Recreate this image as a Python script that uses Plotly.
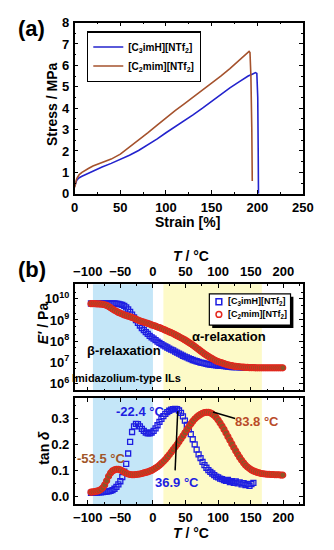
import plotly.graph_objects as go

# ---------------- data ----------------
# (a) stress-strain
strain_c3 = [0, 1, 2, 3, 5, 8, 10, 15, 20, 25, 30, 40, 50, 60, 70, 80, 90, 100, 110, 120,
             130, 140, 150, 160, 170, 180, 185, 190, 195, 198, 199.5, 200.5, 201, 201.3]
stress_c3 = [0.35, 0.5, 0.6, 0.67, 0.75, 0.82, 0.86, 0.97, 1.07, 1.15, 1.25, 1.42, 1.6, 1.8,
             2.02, 2.27, 2.55, 2.85, 3.12, 3.4, 3.7, 4.0, 4.32, 4.65, 4.95, 5.23, 5.37, 5.5,
             5.6, 5.66, 5.62, 4.5, 2.0, 0.0]
strain_c2 = [0, 1, 2, 3, 5, 8, 10, 15, 20, 25, 30, 40, 50, 60, 70, 80, 90, 100, 110, 120,
             130, 140, 150, 160, 170, 180, 185, 188, 190, 191, 192, 193, 194, 194.5]
stress_c2 = [0.3, 0.55, 0.68, 0.76, 0.9, 1.0, 1.06, 1.18, 1.3, 1.38, 1.45, 1.62, 1.85, 2.17,
             2.5, 2.85, 3.2, 3.55, 3.88, 4.2, 4.52, 4.84, 5.16, 5.5, 5.85, 6.22, 6.42, 6.55,
             6.62, 6.65, 6.6, 5.5, 3.0, 0.6]

# (b) DMA
T_c3 = [-95, -92, -89, -86, -83, -80, -77, -74, -71, -68, -65, -62, -59, -56, -53, -50, -47,
        -44, -41, -38, -35, -32, -29, -26, -23, -20, -17, -14, -11, -8, -5, -2, 1, 4, 7, 10,
        13, 16, 19, 22, 25, 28, 31, 34, 37, 40, 43, 46, 49, 52, 55, 58, 61, 64, 67, 70, 73,
        76, 79, 82, 85, 88, 91, 94, 97, 100, 103, 106, 109, 112, 115, 118, 121, 124, 127,
        130, 133, 136, 139, 142, 145, 148, 151, 154]
logE_c3 = [9.78, 9.78, 9.78, 9.78, 9.78, 9.78, 9.78, 9.78, 9.78, 9.78, 9.78, 9.78, 9.78, 9.77,
           9.76, 9.74, 9.71, 9.67, 9.6, 9.5, 9.38, 9.25, 9.12, 8.99, 8.86, 8.74, 8.62, 8.52,
           8.43, 8.34, 8.25, 8.18, 8.12, 8.05, 7.98, 7.92, 7.86, 7.8, 7.75, 7.7, 7.65, 7.6,
           7.56, 7.51, 7.46, 7.41, 7.36, 7.31, 7.27, 7.23, 7.19, 7.15, 7.11, 7.08, 7.05, 7.02,
           6.99, 6.97, 6.95, 6.93, 6.91, 6.89, 6.88, 6.87, 6.86, 6.85, 6.84, 6.83, 6.82, 6.81,
           6.8, 6.79, 6.78, 6.78, 6.77, 6.77, 6.76, 6.76, 6.76, 6.75, 6.75, 6.75, 6.75, 6.75]
tand_c3 = [0.013, 0.013, 0.014, 0.014, 0.015, 0.015, 0.016, 0.017, 0.018, 0.019, 0.021, 0.024,
           0.029, 0.036, 0.046, 0.058, 0.074, 0.095, 0.125, 0.165, 0.21, 0.248, 0.27, 0.279,
           0.278, 0.27, 0.26, 0.252, 0.246, 0.243, 0.243, 0.246, 0.252, 0.262, 0.274, 0.287,
           0.299, 0.309, 0.318, 0.325, 0.33, 0.334, 0.336, 0.337, 0.336, 0.331, 0.322, 0.308,
           0.292, 0.275, 0.258, 0.24, 0.22, 0.2, 0.18, 0.162, 0.147, 0.133, 0.12, 0.11, 0.101,
           0.094, 0.088, 0.082, 0.076, 0.073, 0.068, 0.066, 0.062, 0.06, 0.063, 0.055, 0.058,
           0.052, 0.057, 0.05, 0.054, 0.046, 0.051, 0.043, 0.048, 0.04, 0.047, 0.052]

T_c2 = [-95, -92, -89, -86, -83, -80, -77, -74, -71, -68, -65, -62, -59, -56, -53, -50, -47,
        -44, -41, -38, -35, -32, -29, -26, -23, -20, -17, -14, -11, -8, -5, -2, 1, 4, 7, 10,
        13, 16, 19, 22, 25, 28, 31, 34, 37, 40, 43, 46, 49, 52, 55, 58, 61, 64, 67, 70, 73,
        76, 79, 82, 85, 88, 91, 94, 97, 100, 103, 106, 109, 112, 115, 118, 121, 124, 127,
        130, 133, 136, 139, 142, 145, 148, 151, 154, 157, 160, 163, 166, 169, 172, 175, 178,
        181, 184, 187, 190, 193, 196, 199]
logE_c2 = [9.77, 9.77, 9.77, 9.76, 9.76, 9.75, 9.74, 9.72, 9.69, 9.64, 9.58, 9.52, 9.46, 9.41,
           9.36, 9.32, 9.28, 9.24, 9.21, 9.18, 9.15, 9.12, 9.08, 9.04, 9.0, 8.96, 8.93, 8.9,
           8.87, 8.84, 8.81, 8.77, 8.74, 8.71, 8.67, 8.64, 8.6, 8.56, 8.52, 8.48, 8.44, 8.4,
           8.36, 8.31, 8.26, 8.21, 8.16, 8.11, 8.06, 8.0, 7.94, 7.88, 7.82, 7.75, 7.68, 7.61,
           7.54, 7.47, 7.4, 7.34, 7.28, 7.22, 7.17, 7.12, 7.07, 7.03, 7.0, 6.97, 6.94, 6.91,
           6.88, 6.86, 6.84, 6.82, 6.81, 6.8, 6.79, 6.78, 6.77, 6.76, 6.76, 6.75, 6.75, 6.75,
           6.74, 6.74, 6.74, 6.74, 6.74, 6.74, 6.74, 6.74, 6.74, 6.74, 6.74, 6.74, 6.74, 6.74,
           6.74]
tand_c2 = [0.016, 0.017, 0.018, 0.02, 0.022, 0.026, 0.033, 0.044, 0.06, 0.077, 0.09, 0.098,
           0.102, 0.104, 0.104, 0.102, 0.098, 0.093, 0.089, 0.086, 0.084, 0.083, 0.083, 0.084,
           0.085, 0.086, 0.088, 0.09, 0.092, 0.094, 0.097, 0.1, 0.104, 0.109, 0.114, 0.12,
           0.127, 0.134, 0.142, 0.151, 0.16, 0.17, 0.18, 0.19, 0.2, 0.211, 0.222, 0.233, 0.245,
           0.257, 0.268, 0.279, 0.289, 0.298, 0.305, 0.311, 0.316, 0.32, 0.323, 0.324, 0.324,
           0.322, 0.318, 0.312, 0.304, 0.294, 0.283, 0.271, 0.258, 0.244, 0.23, 0.216, 0.202,
           0.188, 0.175, 0.162, 0.15, 0.139, 0.129, 0.12, 0.113, 0.107, 0.102, 0.098, 0.095,
           0.092, 0.09, 0.088, 0.087, 0.086, 0.085, 0.085, 0.084, 0.084, 0.083, 0.083, 0.083,
           0.082, 0.082]

E_c3 = [10 ** v for v in logE_c3]
E_c2 = [10 ** v for v in logE_c2]

name_c3 = "[C<sub>3</sub>imH][NTf<sub>2</sub>]"
name_c2 = "[C<sub>2</sub>mim][NTf<sub>2</sub>]"

# ---------------- styles ----------------
FONT = "Arial, Liberation Sans, sans-serif"
BLUE_LINE = "rgb(35,35,205)"
BROWN_LINE = "rgb(165,82,45)"
BLUE_MK = "rgb(30,30,225)"
RED_MK = "rgb(228,40,30)"
RED_FILL = "rgb(140,85,40)"
SKY = "rgb(196,230,248)"
CREAM = "rgb(253,250,200)"

W, H = 334, 550


def px(x):
    return x / W


def py(y):
    return 1 - y / H


XL, XR = px(74), px(313)

fig = go.Figure()

# (a)
fig.add_trace(go.Scatter(x=strain_c3, y=stress_c3, mode="lines", name=name_c3,
                         line=dict(color=BLUE_LINE, width=1.6), xaxis="x", yaxis="y"))
fig.add_trace(go.Scatter(x=strain_c2, y=stress_c2, mode="lines", name=name_c2,
                         line=dict(color=BROWN_LINE, width=1.6), xaxis="x", yaxis="y"))

# (b) E'
fig.add_trace(go.Scatter(x=T_c3, y=E_c3, mode="markers", showlegend=False,
                         marker=dict(symbol="square-open", size=5, color=BLUE_MK,
                                     line=dict(width=1.3)),
                         xaxis="x2", yaxis="y2"))
fig.add_trace(go.Scatter(x=T_c2, y=E_c2, mode="markers", showlegend=False,
                         marker=dict(symbol="circle", size=6, color=RED_FILL,
                                     line=dict(width=1.2, color=RED_MK)),
                         xaxis="x2", yaxis="y2"))
# (b) tan delta
fig.add_trace(go.Scatter(x=T_c3, y=tand_c3, mode="markers", showlegend=False,
                         marker=dict(symbol="square-open", size=5, color=BLUE_MK,
                                     line=dict(width=1.3)),
                         xaxis="x3", yaxis="y3"))
fig.add_trace(go.Scatter(x=T_c2, y=tand_c2, mode="markers", showlegend=False,
                         marker=dict(symbol="circle", size=6, color=RED_FILL,
                                     line=dict(width=1.2, color=RED_MK)),
                         xaxis="x3", yaxis="y3"))

tickfont = dict(family=FONT, size=13, color="black", weight="bold")
frame = dict(showline=True, linecolor="black", linewidth=1.5, mirror="ticks",
             ticks="inside", ticklen=4, tickwidth=1.2, tickcolor="black",
             showgrid=False, zeroline=False, tickfont=tickfont, ticklabelstandoff=1)

T_RANGE = [-120, 230]
T_TICKS = [-100, -50, 0, 50, 100, 150, 200]

fig.update_layout(
    width=W, height=H, autosize=False,
    margin=dict(l=0, r=0, t=0, b=0),
    paper_bgcolor="white", plot_bgcolor="white",
    font=dict(family=FONT, color="black"),
    xaxis=dict(domain=[XL, XR], anchor="y", range=[0, 250], dtick=50,
               minor=dict(ticks="inside", ticklen=2, dtick=25, tickcolor="black"), **frame),
    yaxis=dict(domain=[py(192), py(16)], anchor="x", range=[0, 8], dtick=1,
               minor=dict(ticks="inside", ticklen=2, dtick=0.5, tickcolor="black"), **frame),
    xaxis2=dict(domain=[XL, XR], anchor="y2", range=T_RANGE, tickvals=T_TICKS,
                side="top",
                minor=dict(ticks="inside", ticklen=2, dtick=25, tickcolor="black"), **frame),
    yaxis2=dict(domain=[py(394), py(285)], anchor="x2", type="log", range=[5.68, 10.69],
                tickvals=[1e6, 1e7, 1e8, 1e9, 1e10],
                ticktext=["10<sup>6</sup>", "10<sup>7</sup>", "10<sup>8</sup>",
                          "10<sup>9</sup>", "10<sup>10</sup>"],
                minor=dict(ticks="inside", ticklen=2, tickcolor="black"), **frame),
    xaxis3=dict(domain=[XL, XR], anchor="y3", range=T_RANGE, tickvals=T_TICKS,
                minor=dict(ticks="inside", ticklen=2, dtick=25, tickcolor="black"), **frame),
    yaxis3=dict(domain=[py(511), py(402)], anchor="x3", range=[-0.03, 0.379], dtick=0.1,
                tickformat=".1f",
                minor=dict(ticks="inside", ticklen=2, dtick=0.05, tickcolor="black"), **frame),
    legend=dict(x=px(87), y=py(25), xanchor="left", yanchor="top",
                bgcolor="white", bordercolor="black", borderwidth=1.2,
                font=dict(family=FONT, size=10, color="black", weight="bold"),
                itemwidth=30, tracegroupgap=0),
)

shapes = []
# shaded regions
for xa, ya in (("x2", "y2 domain"), ("x3", "y3 domain")):
    shapes.append(dict(type="rect", xref=xa, yref=ya, x0=-92, x1=0, y0=0, y1=1,
                       fillcolor=SKY, line=dict(width=0), layer="below"))
    shapes.append(dict(type="rect", xref=xa, yref=ya, x0=16, x1=167, y0=0, y1=1,
                       fillcolor=CREAM, line=dict(width=0), layer="below"))
# legend (a) shadow
shapes.append(dict(type="rect", xref="paper", yref="paper",
                   x0=px(90), x1=px(202), y0=py(63), y1=py(28),
                   fillcolor="black", line=dict(width=0), layer="below"))
# legend (b): shadow, box, symbols
shapes.append(dict(type="rect", xref="paper", yref="paper",
                   x0=px(218), x1=px(303), y0=py(330), y1=py(298),
                   fillcolor="black", line=dict(width=0), layer="above"))
shapes.append(dict(type="rect", xref="paper", yref="paper",
                   x0=px(215), x1=px(300), y0=py(327), y1=py(295),
                   fillcolor="white", line=dict(width=1.2, color="black"), layer="above"))
shapes.append(dict(type="rect", xref="paper", yref="paper",
                   x0=px(222), x1=px(228), y0=py(306), y1=py(300),
                   fillcolor="white", line=dict(width=1.5, color=BLUE_MK), layer="above"))
shapes.append(dict(type="circle", xref="paper", yref="paper",
                   x0=px(222), x1=px(228), y0=py(319), y1=py(313),
                   fillcolor="white", line=dict(width=1.5, color=RED_MK), layer="above"))
# peak pointer lines
shapes.append(dict(type="line", xref="x3", yref="y3", x0=38, y0=0.328, x1=34, y1=0.1,
                   line=dict(color="black", width=1.5)))
shapes.append(dict(type="line", xref="x3", yref="y3", x0=92, y0=0.325, x1=126, y1=0.3,
                   line=dict(color="black", width=1.5)))
fig.update_layout(shapes=shapes)


def ann(text, x, y, size=13, color="black", xref="paper", yref="paper", angle=0,
        xanchor="center", yanchor="middle"):
    return dict(text=text, x=x, y=y, xref=xref, yref=yref, showarrow=False,
                xanchor=xanchor, yanchor=yanchor, textangle=angle,
                font=dict(family=FONT, size=size, color=color, weight="bold"))


annotations = [
    ann("(a)", px(29), py(22), size=22),
    ann("(b)", px(29), py(270), size=22),
    ann("Strain [%]", px(192), py(221), size=14),
    ann("Stress / MPa", px(51), py(100), size=14, angle=-90),
    ann("<i>T</i> / °C", px(196), py(256), size=14),
    ann("<i>T</i> / °C", px(196), py(541), size=14),
    ann("<i>E'</i> / Pa", px(41), py(325), size=14, angle=-90),
    ann("tan <i>δ</i>", px(41), py(453), size=14, angle=-90),
    ann("β-relaxation", -44, 7.57, size=13, xref="x2", yref="y2"),
    ann("α-relaxation", 116, 8.24, size=13, xref="x2", yref="y2"),
    ann("Imidazolium-type ILs", -40, 6.24, size=11, xref="x2", yref="y2"),
    ann("-22.4 °C", -20, 0.326, size=13, color=BLUE_MK, xref="x3", yref="y3"),
    ann("36.9 °C", 37, 0.052, size=13, color=BLUE_MK, xref="x3", yref="y3"),
    ann("83.8 °C", 160, 0.288, size=13, color="rgb(185,75,40)", xref="x3", yref="y3"),
    ann("-53.5 °C", -79, 0.146, size=13, color="rgb(160,85,40)", xref="x3", yref="y3"),
    # legend (b) labels
    ann(name_c3, px(232), py(303), size=9, xanchor="left"),
    ann(name_c2, px(232), py(316), size=9, xanchor="left"),
]
fig.update_layout(annotations=annotations)

fig.write_html("out.html", config={"displayModeBar": False},
               post_script="document.body.style.margin='0px';document.body.style.padding='0px';")
